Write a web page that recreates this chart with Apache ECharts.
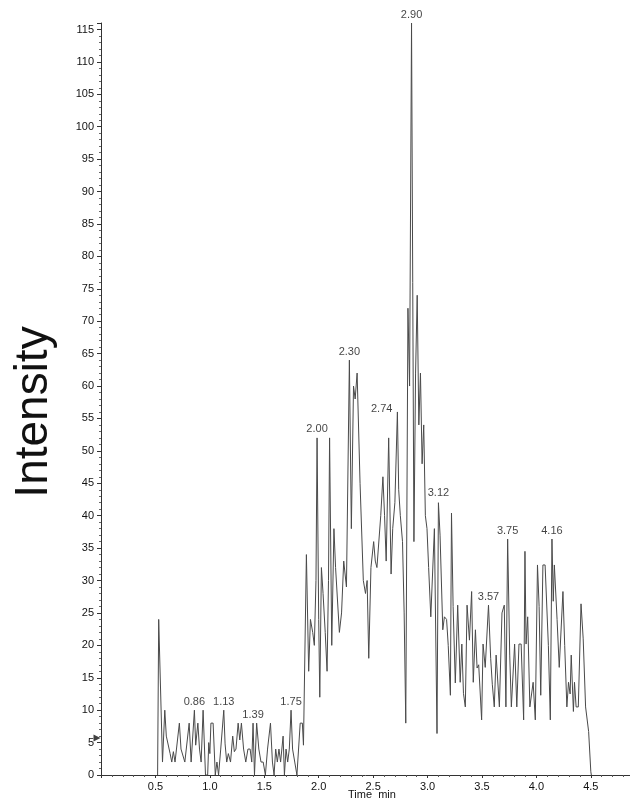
<!DOCTYPE html>
<html>
<head>
<meta charset="utf-8">
<script src="https://cdn.jsdelivr.net/npm/echarts@6/dist/echarts.min.js"></script>
<style>
html,body{margin:0;padding:0;background:#fff;}
#chart{width:630px;height:802px;}
</style>
</head>
<body>
<div id="chart"></div>
<script>
// Retention time (min)
var times = [
0.52,0.53,0.565,0.586,0.60,0.615,0.635,0.65,0.665,0.68,0.695,0.72,0.735,0.75,0.77,0.785,0.81,0.828,0.858,0.87,0.89,0.905,0.92,0.938,0.96,0.98,0.99,1.0,1.01,1.03,1.05,1.065,1.08,1.10,1.128,1.14,1.155,1.17,1.19,1.21,1.225,1.24,1.26,1.275,1.29,1.31,1.33,1.35,1.37,1.385,1.397,1.41,1.43,1.45,1.47,1.49,1.51,1.53,1.557,1.575,1.59,1.605,1.62,1.635,1.65,1.673,1.685,1.70,1.715,1.73,1.746,1.76,1.78,1.80,1.815,1.83,1.85,1.86,
1.887,1.908,1.924,1.945,1.96,1.975,1.985,2.0,2.01,2.025,2.04,2.06,2.077,2.09,2.10,2.12,2.14,2.155,2.17,2.19,2.21,2.23,2.255,2.282,2.30,2.32,2.335,2.353,2.38,2.41,2.43,2.445,2.46,2.48,2.505,2.52,2.535,2.55,2.57,2.59,2.605,2.62,2.643,2.665,2.68,2.70,2.723,2.735,2.75,2.77,2.785,2.80,2.82,2.835,2.853,2.875,2.89,2.905,2.92,2.935,2.95,2.965,2.98,2.995,3.01,3.03,3.063,3.087,3.10,3.115,3.14,3.155,3.175,3.19,3.21,3.22,3.235,3.255,3.277,3.30,3.315,3.33,3.347,3.363,3.385,3.405,3.42,3.44,3.455,3.47,3.497,3.51,3.53,3.56,3.58,3.595,3.613,3.63,3.66,3.684,3.705,3.72,3.736,3.755,3.77,3.80,3.82,3.84,3.86,3.883,3.895,3.905,3.92,3.94,3.97,3.99,4.01,4.025,4.04,4.06,4.08,4.11,4.128,4.143,4.155,4.165,4.19,4.21,4.244,4.26,4.28,4.295,4.31,4.32,4.34,4.35,4.365,4.385,4.41,4.43,4.452,4.48,4.50,4.505
];
// Intensity
var intensity = [
0,24,2,10,6,6,3.3,2,3.6,2,2,8,4,4,2,2,8,2,10,4.6,8,4,2,10,0,0,5,3.3,8,8,0,2,0,4,10,4.8,2,3.3,2,6,3.6,4,8,5.4,8,4,2,4,4,2,8,0,8,4,2,2,0,4,8,2,0,4,2,4,2,6,0,4,2,4,10,4,2,0,0,8,8,4.6,
34,16,24,22,20,30,52,24,12,32,28,22,16,30,52,20,38,32,32,22,25,33,29,64,38,60,58,62,45,30,28,30,18,32,36,33,32,32,40,46,40,33,52,31,38,42,56,44,40,36,25,8,72,60,116,36,62,74,54,62,48,54,40,38,32,24.4,38,6.4,42,37,22.4,24.4,24,20,12.3,40.4,26,14.2,26.2,14.3,20.2,12.6,10.5,26.2,20.8,28.3,14.3,22.4,16.5,17,8.5,20.2,16.6,26.2,18,14,10.5,18.5,10.5,25,26.2,10.5,36.4,18.5,10.5,20.2,10.5,20.2,20.2,8.5,34.5,20.2,24.4,10.5,14.3,8.5,32.4,26,12.3,32.4,32.4,20,8.5,36.4,26.8,32.4,24,16.6,28.3,20,10.5,14.3,12.5,18.5,9.8,14.3,10.5,10.5,26.4,21,10.5,6.7,0.5,0
];
// Annotated peaks
var peakLabels = ['0.86','1.13','1.39','1.75','2.00','2.30','2.74','2.90','3.12','3.57','3.75','4.16'];
var peakTimes  = [0.858,1.128,1.397,1.746,1.985,2.282,2.723,2.853,3.10,3.56,3.736,4.143];
var peakValues = [10,10,8,10,52,64,56,116,42.2,26.2,36.4,36.4];
// Axis ticks
var xTickLabels = ['0.5','1.0','1.5','2.0','2.5','3.0','3.5','4.0','4.5'];
var yTickStep = 5;
// Threshold marker on the intensity axis
var markerValue = 5.7;

var lineData = times.map(function(t,i){return [t, intensity[i]];});
var peakData = peakTimes.map(function(t,i){
  var d = {value:[t, peakValues[i]], name: peakLabels[i]};
  if (peakLabels[i] === '2.74') {
    d.label = {position:'left', distance: 5, offset:[0,-3]};
  }
  return d;
});

var chart = echarts.init(document.getElementById('chart'), null, {renderer:'canvas'});
var font = 'Liberation Sans, Arial, sans-serif';
chart.setOption({
  animation:false,
  backgroundColor:'#fff',
  grid:{left:101, right:0, top:23, bottom:27, containLabel:false, outerBoundsMode:'none'},
  xAxis:{
    type:'value', min:0, max:4.86, interval:0.5,
    axisLine:{lineStyle:{color:'#333', width:1}},
    axisTick:{show:true, length:3, lineStyle:{color:'#333'}},
    minorTick:{show:true, splitNumber:5, length:2, lineStyle:{color:'#555'}},
    splitLine:{show:false},
    axisLabel:{fontFamily:font, fontSize:11, color:'#111', margin:6,
      showMaxLabel:false,
      formatter:function(v){
        var s = v.toFixed(1);
        return xTickLabels.indexOf(s) >= 0 && Math.abs(v*2 - Math.round(v*2))<1e-6 ? s : '';
      }}
  },
  yAxis:{
    type:'value', min:0, max:116, interval:yTickStep,
    axisLine:{show:true, lineStyle:{color:'#333', width:1}},
    axisTick:{show:true, length:4, lineStyle:{color:'#333'}},
    minorTick:{show:true, splitNumber:5, length:2, lineStyle:{color:'#666'}},
    splitLine:{show:false},
    axisLabel:{fontFamily:font, fontSize:11, color:'#111', margin:7, showMaxLabel:false}
  },
  graphic:[{
    type:'text', x:34, y:412, rotation:Math.PI/2,
    style:{text:'Intensity', font:'46px Liberation Sans, Arial, sans-serif', fill:'#111',
      textAlign:'center', textVerticalAlign:'middle'}
  },{
    type:'text', x:372, y:795,
    style:{text:'Time  min', font:'11px Liberation Sans, Arial, sans-serif', fill:'#111',
      textAlign:'center', textVerticalAlign:'middle'}
  }],
  series:[
    {
      type:'line', data:lineData, showSymbol:false, symbol:'none',
      lineStyle:{color:'#4a4a4a', width:1}, clip:false, z:2
    },
    {
      type:'scatter', data:peakData, symbolSize:0, z:3, clip:false,
      label:{show:true, position:'top', distance:3, formatter:'{b}',
        fontFamily:font, fontSize:11, color:'#111'},
      labelLine:{show:false}
    },
    {
      type:'scatter', data:[[0, markerValue]], symbol:'triangle', symbolRotate:-90,
      symbolSize:[7,7], symbolOffset:[-4,0], itemStyle:{color:'#111'}, clip:false, z:4, silent:true
    }
  ]
});
</script>
</body>
</html>
